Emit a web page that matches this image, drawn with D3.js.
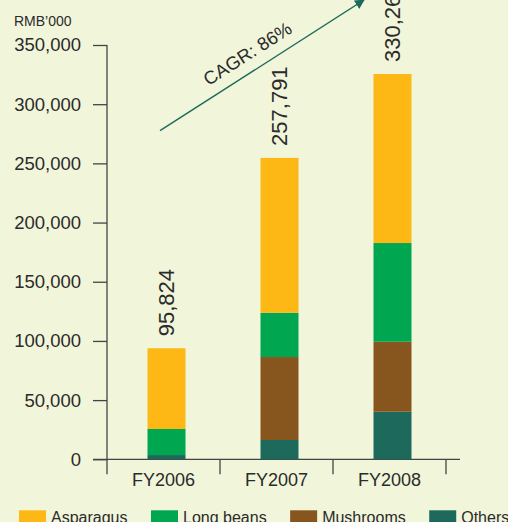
<!DOCTYPE html>
<html>
<head>
<meta charset="utf-8">
<script src="https://cdn.jsdelivr.net/npm/d3@7"></script>
<style>
  html, body { margin: 0; padding: 0; background: #f1f5da; }
  svg { display: block; font-family: "Liberation Sans", Arial, Helvetica, sans-serif; }
</style>
</head>
<body>
<svg id="chart" width="508" height="522"></svg>
<script>
const years = ["FY2006", "FY2007", "FY2008"];
const seriesNames = ["Others", "Mushrooms", "Long beans", "Asparagus"];
const others = [3600, 16300, 40200];
const mushrooms = [0, 70100, 59100];
const longBeans = [22000, 37400, 83400];
const asparagus = [68200, 130800, 142800];
const totalLabels = ["95,824", "257,791", "330,264"];
const yTicks = [0, 50000, 100000, 150000, 200000, 250000, 300000, 350000];
const legendOrder = ["Asparagus", "Long beans", "Mushrooms", "Others"];

const colors = {
    "Asparagus": "#fdb815",
    "Long beans": "#00a650",
    "Mushrooms": "#87561f",
    "Others": "#1d6a5c"
};
const textColor = "#2b2b2b";
const axisColor = "#444";

const svg = d3.select("#chart");

const rows = years.map((y, i) => ({
    year: y,
    "Others": others[i],
    "Mushrooms": mushrooms[i],
    "Long beans": longBeans[i],
    "Asparagus": asparagus[i],
    label: totalLabels[i]
}));

const y = d3.scaleLinear().domain([0, 350000]).range([459.3, 45]);
const x = d3.scaleBand().domain(years).range([107, 446]);
const barW = 38;
const barShift = 3;

// y axis
const yAxis = svg.append("g")
    .attr("transform", "translate(107,0)")
    .call(d3.axisLeft(y).tickValues(yTicks).tickSize(14).tickPadding(12)
        .tickFormat(d3.format(",")));
yAxis.select(".domain").attr("stroke", axisColor).attr("stroke-width", 1.3)
    .attr("d", `M0,${y(350000)}V${y(0)}`);
yAxis.selectAll(".tick line").attr("stroke", axisColor).attr("stroke-width", 1.3);
yAxis.selectAll(".tick text").attr("fill", textColor)
    .style("font-size", "18.5px").style("font-family", "Liberation Sans, Arial, sans-serif");

// x axis
svg.append("line")
    .attr("x1", 93).attr("x2", 460)
    .attr("y1", y(0)).attr("y2", y(0))
    .attr("stroke", axisColor).attr("stroke-width", 1.3);

const xEdges = years.map(d => x(d)).concat([x(years[years.length - 1]) + x.bandwidth()]);
svg.selectAll(".xtick")
    .data(xEdges)
    .enter()
    .append("line")
    .attr("class", "xtick")
    .attr("x1", d => d).attr("x2", d => d)
    .attr("y1", y(0)).attr("y2", y(0) + 15)
    .attr("stroke", axisColor).attr("stroke-width", 1.3);

svg.selectAll(".xlabel")
    .data(years)
    .enter()
    .append("text")
    .attr("class", "xlabel")
    .attr("x", d => x(d) + x.bandwidth() / 2)
    .attr("y", 486)
    .attr("text-anchor", "middle")
    .attr("fill", textColor)
    .style("font-size", "18px")
    .text(d => d);

// stacked bars
const stack = d3.stack().keys(seriesNames);
const layers = stack(rows);

svg.selectAll(".layer")
    .data(layers)
    .enter()
    .append("g")
    .attr("class", "layer")
    .attr("fill", d => colors[d.key])
    .selectAll("rect")
    .data(d => d)
    .enter()
    .append("rect")
    .attr("x", d => x(d.data.year) + x.bandwidth() / 2 - barW / 2 + barShift)
    .attr("y", d => y(d[1]))
    .attr("width", barW)
    .attr("height", d => y(d[0]) - y(d[1]));

// total labels (rotated)
svg.selectAll(".total")
    .data(layers[layers.length - 1])
    .enter()
    .append("text")
    .attr("class", "total")
    .attr("transform", d => {
        const cx = x(d.data.year) + x.bandwidth() / 2 + barShift + 7;
        return `translate(${cx},${y(d[1]) - 12}) rotate(-90)`;
    })
    .attr("fill", textColor)
    .style("font-size", "22px")
    .text(d => d.data.label);

// CAGR arrow
const defs = svg.append("defs");
defs.append("marker")
    .attr("id", "arrowHead")
    .attr("viewBox", "0 0 10 10")
    .attr("refX", 9).attr("refY", 5)
    .attr("markerWidth", 7).attr("markerHeight", 7)
    .attr("markerUnits", "strokeWidth")
    .attr("orient", "auto")
    .append("path")
    .attr("d", "M0,0L10,5L0,10Z")
    .attr("fill", "#1d6a5c");

const ax1 = 160, ay1 = 130.7, ax2 = 364, ay2 = 0;
svg.append("line")
    .attr("x1", ax1).attr("y1", ay1)
    .attr("x2", ax2).attr("y2", ay2)
    .attr("stroke", "#1d6a5c")
    .attr("stroke-width", 1.4)
    .attr("marker-end", "url(#arrowHead)");

const ang = Math.atan2(ay2 - ay1, ax2 - ax1) * 180 / Math.PI;
svg.append("text")
    .attr("transform", `translate(251,59) rotate(${ang})`)
    .attr("text-anchor", "middle")
    .attr("fill", textColor)
    .style("font-size", "18.5px")
    .text("CAGR: 86%");

// unit label
svg.append("text")
    .attr("x", 14).attr("y", 26)
    .attr("fill", textColor)
    .style("font-size", "14px")
    .text("RMB\u2019000");

// legend
const legend = svg.append("g").attr("class", "legend");
let lx = 19;
legendOrder.forEach(name => {
    legend.append("rect")
        .attr("x", lx).attr("y", 510.3)
        .attr("width", 27).attr("height", 14)
        .attr("fill", colors[name]);
    const t = legend.append("text")
        .attr("x", lx + 32).attr("y", 522.5)
        .attr("fill", textColor)
        .style("font-size", "16px")
        .text(name);
    lx += 32 + t.node().getComputedTextLength() + 23.5;
});
</script>
</body>
</html>
